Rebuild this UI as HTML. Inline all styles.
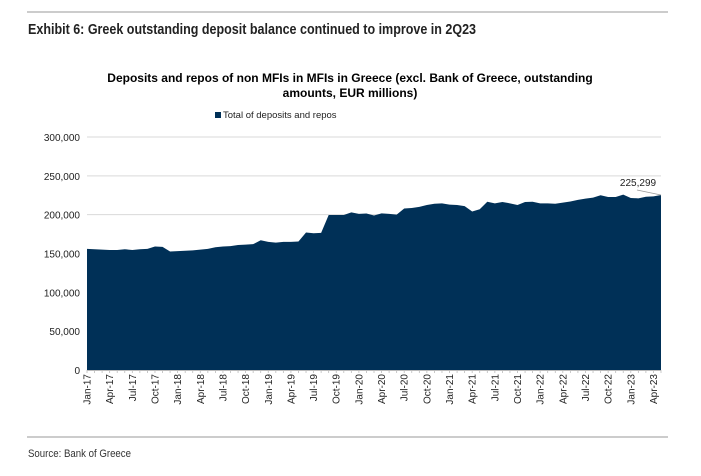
<!DOCTYPE html>
<html><head><meta charset="utf-8"><style>
body{margin:0;background:#fff;width:701px;height:471px;overflow:hidden;font-family:"Liberation Sans",sans-serif}
</style></head><body>
<svg width="701" height="471" xmlns="http://www.w3.org/2000/svg">
<line x1="27" y1="12" x2="668" y2="12" stroke="#999" stroke-width="1"/>
<text x="28" y="34" font-family="Liberation Sans Narrow, Liberation Sans, sans-serif" font-weight="bold" font-size="14.5" fill="#222" textLength="448" lengthAdjust="spacingAndGlyphs">Exhibit 6: Greek outstanding deposit balance continued to improve in 2Q23</text>
<text x="350" y="82" text-anchor="middle" font-weight="bold" font-size="12" fill="#000">Deposits and repos of non MFIs in MFIs in Greece (excl. Bank of Greece, outstanding</text>
<text x="350" y="97" text-anchor="middle" font-weight="bold" font-size="12" fill="#000">amounts, EUR millions)</text>
<g>
<rect x="215" y="112" width="6" height="6" fill="#003057"/>
<text x="223" y="118" font-size="9.5" fill="#222">Total of deposits and repos</text>
</g>
<g id="grid"></g>
<g id="area"></g>
<g id="axes"></g>
<line x1="27" y1="437" x2="668" y2="437" stroke="#999" stroke-width="1"/>
<text x="28" y="457" font-family="Liberation Sans Narrow, Liberation Sans, sans-serif" font-size="11" fill="#333" textLength="103" lengthAdjust="spacingAndGlyphs">Source: Bank of Greece</text>
</svg>
<script>
const values = [156,155.5,155,154.5,154.5,155.5,154.5,155.5,156,159,158.5,152.5,
153,153.5,154,155,156,158,159,159.5,161,161.5,162,167,
165,164,165,165,165.5,177,176,176.5,199.5,199.5,199.5,203,
201,201.5,199,201.7,201,200,208,208.5,210,212.5,214,214.5,
213,212.5,211,204,207,216.7,214.5,216.3,214.6,212.5,216.3,216.7,
214.6,214.6,214,215.5,217,219,220.6,222,225,222.7,222.7,225.8,
221.5,221,223,223.5,225.299];
const yTicks = [0,50000,100000,150000,200000,250000,300000];
const yTickLabels = ["0","50,000","100,000","150,000","200,000","250,000","300,000"];
const xLabels = ["Jan-17","Apr-17","Jul-17","Oct-17","Jan-18","Apr-18","Jul-18","Oct-18","Jan-19","Apr-19","Jul-19","Oct-19","Jan-20","Apr-20","Jul-20","Oct-20","Jan-21","Apr-21","Jul-21","Oct-21","Jan-22","Apr-22","Jul-22","Oct-22","Jan-23","Apr-23"];
const lastLabel = "225,299";
const NS="http://www.w3.org/2000/svg";
const X0=87,X1=661,Y0=370,Y1=137;
const n=values.length;
const xs=i=>X0+(X1-X0)*i/(n-1);
const ys=v=>Y0-(Y0-Y1)*v/300000;
function mk(t,a,p){const e=document.createElementNS(NS,t);for(const k in a)e.setAttribute(k,a[k]);p.appendChild(e);return e;}
const grid=document.getElementById('grid'),area=document.getElementById('area'),axes=document.getElementById('axes');
yTicks.forEach((t,i)=>{
 if(t>0){const l=mk('line',{x1:X0,x2:X1,y1:ys(t),y2:ys(t),stroke:'#d9d9d9','stroke-width':1},grid);
 
 }
 const tx=mk('text',{x:80,y:ys(t)+4,'text-anchor':'end','font-size':10,fill:'#222'},axes);
 tx.textContent=yTickLabels[i];
 
 
});
let d='M'+X0+','+Y0;
values.forEach((v,i)=>{d+=' L'+xs(i).toFixed(2)+','+ys(v*1000).toFixed(2);});
d+=' L'+X1+','+Y0+' Z';
const p=mk('path',{d:d,fill:'#003057'},area);


const ax=mk('line',{x1:X0,x2:X1,y1:Y0+0.5,y2:Y0+0.5,stroke:'#bbb','stroke-width':1},axes);


for(let i=0;i<n;i++){const t=mk('line',{x1:xs(i),x2:xs(i),y1:Y0,y2:Y0+3,stroke:'#bbb','stroke-width':0.8},axes);
 
 }
xLabels.forEach((lab,j)=>{
 const x=xs(j*3)+3.5;
 const tx=mk('text',{x:0,y:0,transform:'translate('+x.toFixed(1)+',374) rotate(-90)','text-anchor':'end','font-size':10,fill:'#222'},axes);
 tx.textContent=lab;
 
 
});
const lv=values[n-1]*1000;
const ll=mk('line',{x1:637,y1:190,x2:xs(n-1),y2:ys(lv),stroke:'#999','stroke-width':0.8},axes);


const at=mk('text',{x:638,y:186,'text-anchor':'middle','font-size':10,fill:'#222'},axes);
at.textContent=lastLabel;


</script>
</body></html>
